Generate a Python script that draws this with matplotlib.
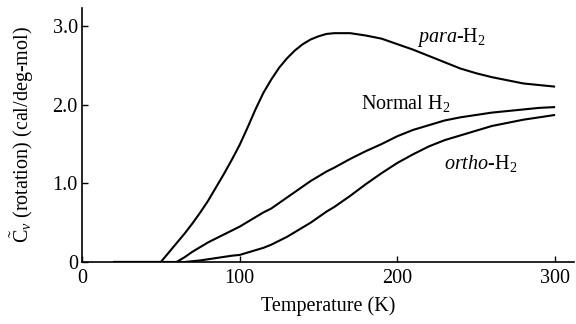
import matplotlib
matplotlib.use("Agg")
import matplotlib.pyplot as plt

T = [20, 40, 50, 55, 60, 65, 70, 75, 80, 85, 90, 95, 100, 105, 110, 115, 120, 125,
     130, 135, 140, 145, 150, 155, 160, 170, 180, 190, 200, 210, 220, 230, 240, 250, 260, 270, 280, 290, 300]
para = [0, 0, 0, 0.12, 0.24, 0.36, 0.49, 0.63, 0.78, 0.95, 1.12, 1.30, 1.49, 1.71, 1.94, 2.15, 2.32, 2.47,
        2.59, 2.69, 2.77, 2.83, 2.87, 2.90, 2.91, 2.91, 2.88, 2.84, 2.77, 2.70, 2.62, 2.54, 2.46, 2.40, 2.35, 2.31, 2.27, 2.25, 2.23]
normal = [0, 0, 0, 0, 0, 0.06, 0.13, 0.19, 0.25, 0.30, 0.35, 0.40, 0.45, 0.51, 0.57, 0.63, 0.68, 0.75,
          0.82, 0.89, 0.96, 1.03, 1.09, 1.15, 1.20, 1.31, 1.41, 1.50, 1.60, 1.68, 1.74, 1.80, 1.84, 1.87, 1.90, 1.92, 1.94, 1.96, 1.97]
ortho = [0, 0, 0, 0, 0, 0, 0.01, 0.02, 0.035, 0.05, 0.065, 0.08, 0.09, 0.12, 0.15, 0.18, 0.22, 0.27,
         0.32, 0.38, 0.44, 0.50, 0.57, 0.64, 0.70, 0.84, 0.99, 1.13, 1.26, 1.37, 1.47, 1.55, 1.61, 1.67, 1.73, 1.77, 1.81, 1.84, 1.87]

xticks = [0, 100, 200, 300]
xticklabels = ["0", "100", "200", "300"]
yticks = [0, 1, 2, 3]
yticklabels = ["0", "1.0", "2.0", "3.0"]

plt.rcParams['font.family'] = ['Liberation Serif', 'DejaVu Serif']
plt.rcParams['mathtext.fontset'] = 'custom'
plt.rcParams['mathtext.rm'] = 'Liberation Serif'
plt.rcParams['mathtext.it'] = 'Liberation Serif:italic'
plt.rcParams['mathtext.bf'] = 'Liberation Serif:bold'

FS = 14.5

fig = plt.figure(figsize=(5.76, 3.24), dpi=100)
ax = fig.add_axes([82/576, 62/324, (574-82)/576, (262-8)/324])

for y in (para, normal, ortho):
    ax.plot(T, y, color='black', lw=1.5, solid_capstyle='butt', solid_joinstyle='round')

ax.set_xlim(0, 312)
ax.set_ylim(0, 3.23)
ax.spines['top'].set_visible(False)
ax.spines['right'].set_visible(False)
for s in ('left', 'bottom'):
    ax.spines[s].set_linewidth(1.2)

ax.set_xticks(xticks)
ax.set_xticklabels(xticklabels)
ax.set_yticks(yticks)
ax.set_yticklabels(yticklabels)
ax.tick_params(direction='in', length=4, width=1.0, labelsize=14.5)
ax.tick_params(axis='x', pad=5)
ax.tick_params(axis='y', pad=3)

ax.set_xlabel('Temperature (K)', fontsize=FS, labelpad=6)
ax.set_ylabel(r'$\tilde{\mathrm{C}}_{v}$ (rotation) (cal/deg-mol)', fontsize=FS, labelpad=12)

ax.text(234, 2.86, r'$\mathit{para}$-H$_2$', fontsize=FS, ha='center', va='center')
ax.text(205, 2.02, r'Normal H$_2$', fontsize=FS, ha='center', va='center')
ax.text(253, 1.25, r'$\mathit{ortho}$-H$_2$', fontsize=FS, ha='center', va='center')

fig.savefig('out.png', dpi=100)
